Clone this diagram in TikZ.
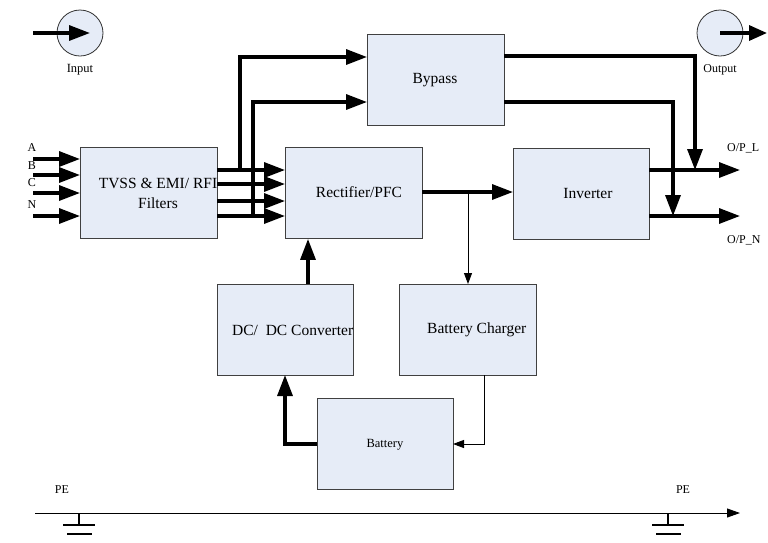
\documentclass[tikz,border=0pt]{standalone}
\usepackage{fontspec}
\setmainfont{Liberation Serif}
\usetikzlibrary{arrows.meta,calc}
\definecolor{boxfill}{HTML}{E6ECF7}
\begin{document}
\begin{tikzpicture}[x=1pt,y=-1pt,
  blk/.style={draw=black!75,line width=0.9pt,fill=boxfill,inner sep=0pt,anchor=north west},
  boxtxt/.style={font=\fontsize{15.5}{20}\selectfont,align=center,inner sep=0pt},
  smalltxt/.style={font=\fontsize{12}{14}\selectfont,inner sep=0pt},
  thickarr/.style={line width=3.3pt,-{Triangle[length=21pt,width=15pt]}},
  thinarr/.style={line width=0.9pt,-{Triangle[length=11pt,width=8pt]}},
  circ/.style={draw=black!80,line width=0.8pt,fill=boxfill,circle,minimum size=46pt,inner sep=0pt}
]
\useasboundingbox (0,0) rectangle (768,542);

% circles
\node[circ] (incirc) at (80,33) {};
\node[smalltxt,font=\fontsize{12.5}{14}\selectfont] (inlab) at (80,70) {Input};
\coordinate (instart) at (33,33);
\coordinate (inend) at (90,33);
\draw[thickarr] (instart) -- (inend);

\node[circ] (outcirc) at (720,33) {};
\node[smalltxt,font=\fontsize{12}{14}\selectfont] (outlab) at (720,70) {Output};
\coordinate (outend) at (767,33);
\draw[line width=3.3pt,-{Triangle[length=18pt,width=15pt]}] (outcirc.center) -- (outend);

% boxes
\node[blk,minimum width=137pt,minimum height=91pt] (tvss) at (80,147) {};
\node[boxtxt] (tvsstxt) at (158,193) {TVSS \& EMI/ RFI\\Filters};

\node[blk,minimum width=137pt,minimum height=91pt] (rect) at (285,147) {};
\node[boxtxt] (recttxt) at (359,192) {Rectifier/PFC};

\node[blk,minimum width=137pt,minimum height=91pt] (byp) at (367,34) {};
\node[boxtxt] (byptxt) at (435,80) {Bypass};

\node[blk,minimum width=136pt,minimum height=91pt] (inv) at (513,148) {};
\node[boxtxt] (invtxt) at (588,193) {Inverter};

\node[blk,minimum width=136pt,minimum height=91pt] (dcdc) at (217,284) {};
\node[boxtxt,anchor=west] (dcdctxt) at (232,330) {DC/\ \ DC Converter};

\node[blk,minimum width=137pt,minimum height=91pt] (chg) at (399,284) {};
\node[boxtxt,anchor=west] (chgtxt) at (427,330) {Battery Charger};

\node[blk,minimum width=136pt,minimum height=91pt] (bat) at (317,398) {};
\node[smalltxt,font=\fontsize{12.5}{14}\selectfont] (battxt) at (385,445) {Battery};

% inputs A B C N
\foreach \y [count=\i] in {159,175,193,216}{
  \coordinate (in\i) at (33,\y);
  \draw[thickarr] (in\i) -- (in\i -| tvss.west);
}
\node[smalltxt] (la) at (32,148) {A};
\node[smalltxt] (lb) at (32,166) {B};
\node[smalltxt] (lc) at (32,183) {C};
\node[smalltxt] (ln) at (32,205) {N};

% TVSS -> rectifier
\foreach \y [count=\i] in {170,184,201,216}{
  \coordinate (t\i) at (217,\y);
  \draw[thickarr] (t\i) -- (t\i -| rect.west);
}

% TVSS -> bypass
\coordinate (b1) at (367,57);
\coordinate (b2) at (367,102);
\draw[thickarr] (240,170) -- (240,57) -- (b1);
\draw[thickarr] (253,216) -- (253,102) -- (b2);

% bypass -> outputs
\coordinate (ol) at (649,170);
\coordinate (on) at (649,216);
\coordinate (ltop) at (695,56);
\coordinate (ntop) at (673,102);
\draw[thickarr] (504,56) -- (ltop) -- (ltop |- ol);
\draw[thickarr] (504,102) -- (ntop) -- (ntop |- on);

% inverter outputs
\coordinate (olend) at (740,170);
\coordinate (onend) at (740,216);
\draw[thickarr] (ol) -- (olend);
\draw[thickarr] (on) -- (onend);
\node[smalltxt,anchor=west] (olab) at (727,148) {O/P\_L};
\node[smalltxt,anchor=west] (onlab) at (727,240) {O/P\_N};

% rectifier -> inverter
\coordinate (r1) at (422,192);
\draw[thickarr] (r1) -- (r1 -| inv.west);
\coordinate (br) at (468,192);
\draw[thinarr] (br) -- (br |- chg.north);

% dcdc -> rectifier
\coordinate (d1) at (308,284);
\draw[thickarr] (d1) -- (d1 |- rect.south);

% battery -> dcdc
\coordinate (bl) at (317,444);
\draw[thickarr] (bl) -- (285,444) -- (285,375);

% charger -> battery
\coordinate (cb) at (484,375);
\draw[thinarr] (cb) -- (484,444) -- (453,444);

% PE line
\coordinate (pes) at (35,513);
\coordinate (pee) at (740,513);
\draw[line width=0.9pt,-{Triangle[length=13pt,width=9pt]}] (pes) -- (pee);
\node[smalltxt] (pe1) at (62,490) {PE};
\node[smalltxt] (pe2) at (683,490) {PE};
\foreach \gx [count=\i] in {79,668}{
  \coordinate (g\i) at (\gx,513);
  \draw[line width=1.2pt] (g\i) -- ++(0,12);
  \draw[line width=1.4pt] ($(g\i)+(-16,12)$) -- ++(32,0);
  \draw[line width=1.4pt] ($(g\i)+(-12,21)$) -- ++(25,0);
}
\end{tikzpicture}
\end{document}
